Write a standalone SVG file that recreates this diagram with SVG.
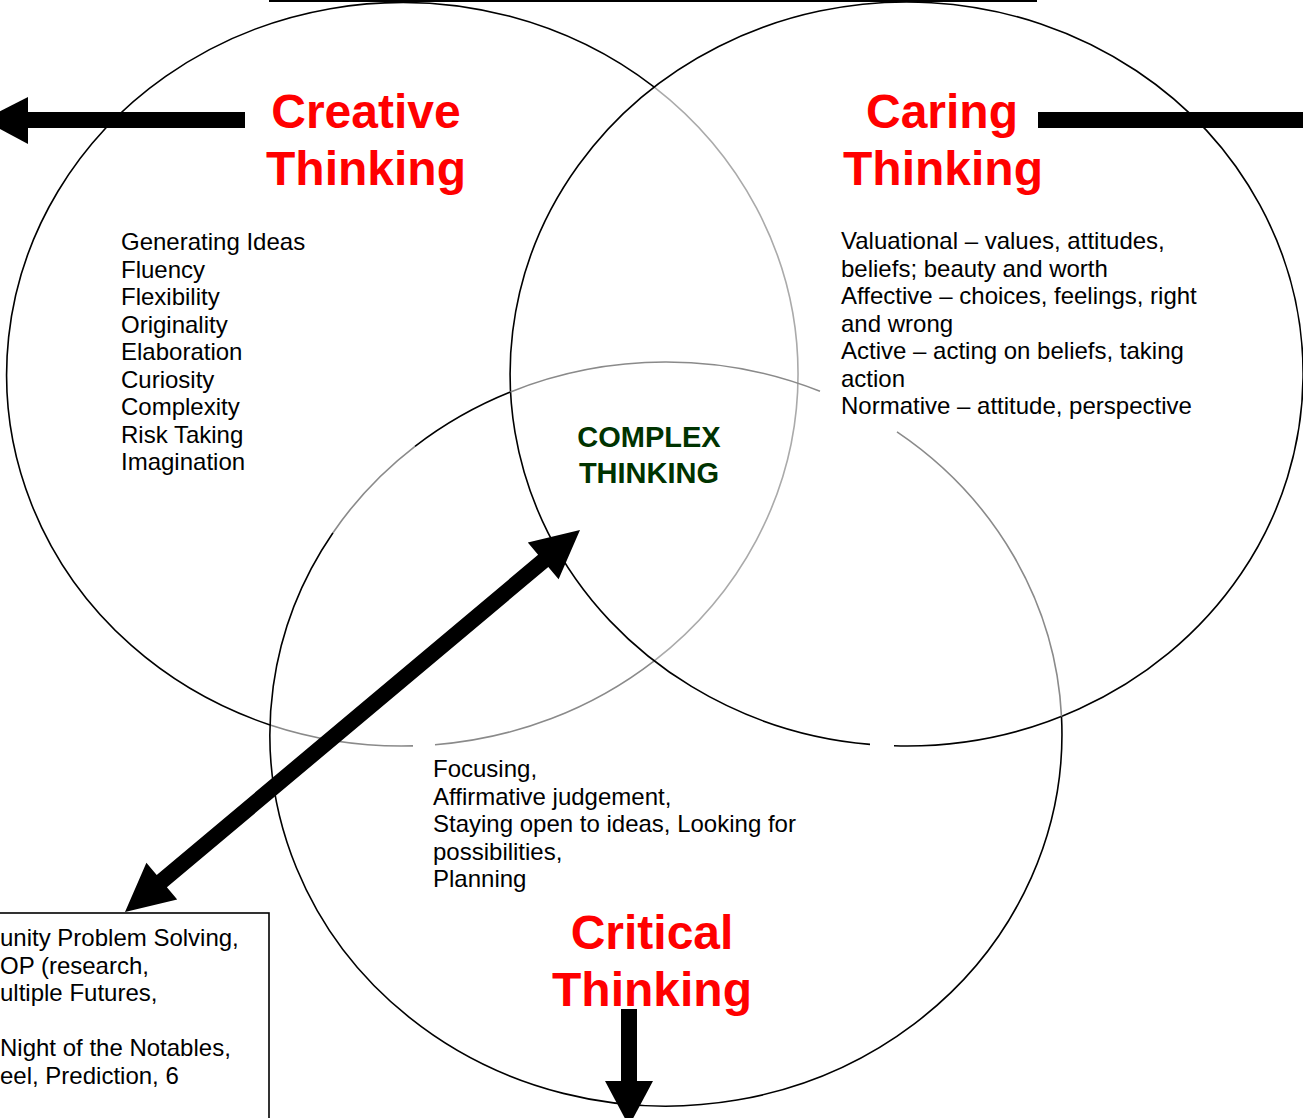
<svg xmlns="http://www.w3.org/2000/svg" width="1303" height="1118" viewBox="0 0 1303 1118">
<style>
.ln{fill:none;stroke:#000;stroke-width:1.6}
.gr{fill:none;stroke:#8a8a8a;stroke-width:1.6}
.lg{fill:none;stroke:#aaaaaa;stroke-width:1.6}
.title{font-family:"Liberation Sans",Arial,sans-serif;font-weight:bold;font-size:48px;fill:#ff0000;text-anchor:middle}
.list{font-family:"Liberation Sans",Arial,sans-serif;font-size:24px;fill:#000}
.cx{font-family:"Liberation Sans",Arial,sans-serif;font-weight:bold;font-size:29px;fill:#003300;text-anchor:middle}
.arr{fill:#000;stroke:none}
</style>
<rect x="0" y="0" width="1303" height="1118" fill="#fff"/>
<line x1="269" y1="1" x2="1037" y2="1" stroke="#000" stroke-width="2"/>

<g id="circle-creative">
<path class="ln" d="M 270.1 725 A 396 372 0 1 1 654.25 87.2"/>
<path class="lg" d="M 654.25 87.2 A 396 372 0 0 1 654.25 660.8"/>
<path class="gr" d="M 654.25 660.8 A 396 372 0 0 1 435 744.7"/>
<path class="gr" d="M 413 745.9 A 396 372 0 0 1 270.1 725"/>
</g>

<g id="circle-caring">
<path class="ln" d="M 870 744.4 A 396.5 372 0 1 1 894 745.8"/>
</g>

<g id="circle-critical">
<path class="ln" d="M 1061.5 716.5 A 396 372 0 1 1 333 532.7"/>
<path class="gr" d="M 333 532.7 A 396 372 0 0 1 415 446.3"/>
<path class="ln" d="M 415 446.3 A 396 372 0 0 1 510.5 391.9"/>
<path class="gr" d="M 510.5 391.9 A 396 372 0 0 1 820 391.3"/>
<path class="gr" d="M 897 431.9 A 396 372 0 0 1 1061.5 716.5"/>
</g>

<g id="creative">
<text class="title" x="366" y="128">Creative</text>
<text class="title" x="366" y="185">Thinking</text>
<text class="list" x="121" y="250">Generating Ideas</text>
<text class="list" x="121" y="277.5">Fluency</text>
<text class="list" x="121" y="305">Flexibility</text>
<text class="list" x="121" y="332.5">Originality</text>
<text class="list" x="121" y="360">Elaboration</text>
<text class="list" x="121" y="387.5">Curiosity</text>
<text class="list" x="121" y="415">Complexity</text>
<text class="list" x="121" y="442.5">Risk Taking</text>
<text class="list" x="121" y="470">Imagination</text>
</g>

<g id="caring">
<text class="title" x="942" y="128">Caring</text>
<text class="title" x="943" y="185">Thinking</text>
<text class="list" x="841" y="249">Valuational – values, attitudes,</text>
<text class="list" x="841" y="276.5">beliefs; beauty and worth</text>
<text class="list" x="841" y="304">Affective – choices, feelings, right</text>
<text class="list" x="841" y="331.5">and wrong</text>
<text class="list" x="841" y="359">Active – acting on beliefs, taking</text>
<text class="list" x="841" y="386.5">action</text>
<text class="list" x="841" y="414">Normative – attitude, perspective</text>
</g>

<g id="complex">
<text class="cx" x="649" y="447">COMPLEX</text>
<text class="cx" x="649" y="483">THINKING</text>
</g>

<g id="critical">
<text class="list" x="433" y="777">Focusing,</text>
<text class="list" x="433" y="804.5">Affirmative judgement,</text>
<text class="list" x="433" y="832">Staying open to ideas, Looking for</text>
<text class="list" x="433" y="859.5">possibilities,</text>
<text class="list" x="433" y="887">Planning</text>
<text class="title" x="652" y="949">Critical</text>
<text class="title" x="652" y="1006">Thinking</text>
</g>

<g id="activities-box">
<rect x="-2" y="913" width="271" height="220" fill="#fff" stroke="#000" stroke-width="1.6"/>
<text class="list" x="0" y="946">unity Problem Solving,</text>
<text class="list" x="0" y="973.5">OP (research,</text>
<text class="list" x="0" y="1001">ultiple Futures,</text>
<text class="list" x="0" y="1056">Night of the Notables,</text>
<text class="list" x="0" y="1083.5">eel, Prediction, 6</text>
</g>

<g id="connectors">
<rect class="arr" x="27" y="112" width="218" height="16"/>
<polygon class="arr" points="28,97 28,144 -17,120"/>
<rect class="arr" x="1038" y="112" width="270" height="16"/>
<rect class="arr" x="621" y="1009" width="16" height="73"/>
<polygon class="arr" points="605,1081 653,1081 629,1126"/>
<polygon class="arr" points="580,530 558.6,579.3 548.3,567 166.9,887.2 177.2,899.5 125,912 146.4,862.7 156.7,875 538.1,554.8 527.8,542.5"/>
</g>
</svg>
